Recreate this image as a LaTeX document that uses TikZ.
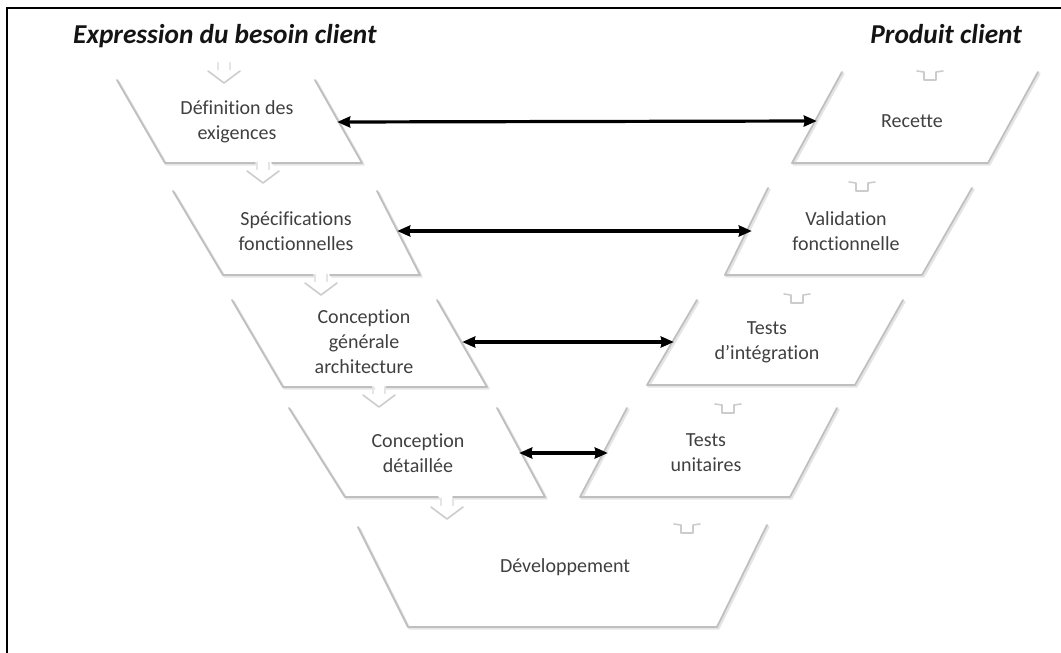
\documentclass[tikz,border=0pt]{standalone}
\usepackage{fontspec}
\setmainfont[Ligatures=NoCommon]{Carlito}
\usetikzlibrary{arrows.meta}
\begin{document}
\begin{tikzpicture}[x=1pt,y=-1pt,
  lbl/.style={font=\fontsize{20}{25}\selectfont, text=black!75, align=center, inner sep=0pt},
  ttl/.style={font=\fontsize{27.3}{30}\selectfont\bfseries\itshape, text=black!92, inner sep=0pt},
  side/.style={draw=black!25, line width=1.8pt, line cap=round, line join=round},
  shade/.style={draw=black!10, line width=2.4pt, line cap=round, line join=round},
  chev/.style={draw=black!20, line width=1.6pt, line cap=round, line join=round},
  faint/.style={draw=black!10, line width=1.2pt},
  dbl/.style={line width=3.2pt, {Stealth[length=13pt,width=11pt,inset=1pt]}-{Stealth[length=13pt,width=11pt,inset=1pt]}},
]
\useasboundingbox (0,0) rectangle (1061,653);
\draw[line width=2pt] (6.5,653) -- (6.5,8) -- (1061,8);

% titles
\node[ttl, anchor=base west] (t1) at (73,43) {Expression du besoin client};
\node[ttl, anchor=base east] (t2) at (1022,43) {Produit client};

% left boxes
\foreach \a/\b/\c/\d/\e/\f/\ty/\by in {117/165/255/272/362/315/80/163, 173/223/313/330/420/377/191/275, 232/283/373/385/487/437/300/387, 289/345/438/453/545/497/408/497}{
  \draw[shade] ([shift={(1.5,1.5)}]\a,\ty) -- ([shift={(1.5,1.5)}]\b,\by) -- ([shift={(1.5,1.5)}]\c,\by);
  \draw[shade] ([shift={(1.5,1.5)}]\d,\by) -- ([shift={(1.5,1.5)}]\e,\by) -- ([shift={(1.5,1.5)}]\f,\ty);
  \draw[side] (\a,\ty) -- (\b,\by) -- (\c,\by);
  \draw[side] (\d,\by) -- (\e,\by) -- (\f,\ty);
}
% bottom box
\draw[shade] (359.5,528.5) -- (409.5,628.5) -- (718.5,628.5) -- (768.5,526.5);
\draw[side] (358,527) -- (408,627) -- (717,627) -- (767,525);

% right boxes
\foreach \a/\b/\c/\d/\ty/\by in {842/792/988/1038/72/163, 768/725/922/972/188/275, 697/647/855/903/300/385, 627/580/790/837/408/497}{
  \draw[shade] ([shift={(1.5,1.5)}]\a,\ty) -- ([shift={(1.5,1.5)}]\b,\by) -- ([shift={(1.5,1.5)}]\c,\by) -- ([shift={(1.5,1.5)}]\d,\ty);
  \draw[side] (\a,\ty) -- (\b,\by) -- (\c,\by) -- (\d,\ty);
}

% down chevrons
\foreach \cx/\cy in {224/71, 263/171, 321/283, 379/395, 447/507}{
  \draw[faint] (\cx-6,\cy-9) -- (\cx-6,\cy-1) (\cx+6,\cy-9) -- (\cx+6,\cy-1);
  \draw[chev] (\cx-16,\cy) -- (\cx,\cy+12) -- (\cx+16,\cy);
}
% up arrows
\foreach \cx/\cy in {930/71, 862/182, 797/294, 728/404, 687/524}{
  \draw[chev] (\cx-13,\cy) -- (\cx-6,\cy+1) -- (\cx-6,\cy+9) -- (\cx+6,\cy+9) -- (\cx+6,\cy+1) -- (\cx+13,\cy);
}

% labels
\node[lbl, minimum width=200pt] (def) at (237,122) {Définition des\\exigences};
\node[lbl, minimum width=190pt] (rec) at (912,121) {Recette};
\node[lbl, minimum width=202pt] (spe) at (296,231) {Spécifications\\fonctionnelles};
\node[lbl, minimum width=188pt] (val) at (846,231) {Validation\\fonctionnelle};
\node[lbl, minimum width=196pt] (cge) at (364,342) {Conception\\générale\\architecture};
\node[lbl, minimum width=186pt] (tin) at (767,342) {Tests\\d’intégration};
\node[lbl, minimum width=202pt] (cde) at (418,453) {Conception\\détaillée};
\node[lbl, minimum width=196pt] (tun) at (706,453) {Tests\\unitaires};
\node[lbl] (dev) at (565,567) {Développement};

% connectors
\draw[dbl] (def.east) -- (rec.west);
\draw[dbl] (spe.east) -- (val.west);
\draw[dbl] (cge.east) -- (tin.west);
\draw[dbl] (cde.east) -- (tun.west);
\end{tikzpicture}
\end{document}
